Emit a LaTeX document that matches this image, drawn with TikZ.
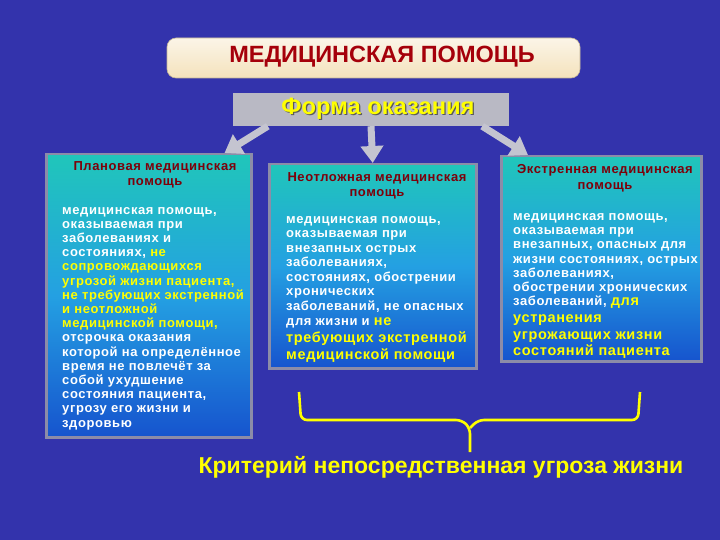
\documentclass[tikz,border=0pt]{standalone}
\usepackage{fontspec}
\setmainfont{Liberation Sans}
\newfontfamily\widefont[LetterSpace=4.5]{Liberation Sans}
\usetikzlibrary{arrows.meta, positioning, calc}
\definecolor{slideblue}{RGB}{51, 51, 172}
\definecolor{titlered}{RGB}{165, 0, 10}
\definecolor{headred}{RGB}{125, 0, 10}
\definecolor{formgray}{RGB}{185, 185, 196}
\definecolor{arrowgray}{RGB}{196, 196, 208}
\definecolor{framegray}{RGB}{140, 140, 168}
\definecolor{boxteal}{RGB}{32, 198, 186}
\definecolor{boxsky}{RGB}{36, 160, 226}
\definecolor{boxdeep}{RGB}{22, 84, 206}
\definecolor{markyellow}{RGB}{255, 255, 0}
\definecolor{cream}{RGB}{244, 226, 188}
\definecolor{shadowgray}{RGB}{90, 90, 90}

\tikzset{
  colbox/.style={draw=framegray, line width=2.5pt, anchor=north west,
    top color=boxteal, bottom color=boxdeep, middle color=boxsky},
  colhead/.style={text=headred, align=center, inner sep=0pt,
    font=\widefont\bfseries\fontsize{13}{14.5}\selectfont},
  colbody/.style={text=white, align=left, anchor=north west, inner sep=0pt,
    font=\widefont\bfseries\fontsize{13}{14.2}\selectfont},
  fatarrow/.style={-{Triangle[length=17pt, width=22pt]}, line width=7pt, arrowgray},
}
\newcommand{\hl}[1]{\textcolor{markyellow}{#1}}
\newcommand{\hlbig}[1]{\textcolor{markyellow}{\fontsize{14.5}{16}\selectfont #1}}

\begin{document}
\begin{tikzpicture}[x=1pt, y=-1pt]
  % background of the slide
  \fill[slideblue] (0,0) rectangle (720,540);
  \useasboundingbox (0,0) rectangle (720,540);

  % title
  \node[draw=cream!80!black, line width=0.6pt, rounded corners=9pt,
        top color=cream!35, bottom color=cream,
        minimum width=413pt, minimum height=40pt]
        (title) at (373.5,58) {};
  \node[text=titlered, font=\fontsize{23.5}{24}\selectfont\bfseries]
        (titletext) at (382,57) {МЕДИЦИНСКАЯ ПОМОЩЬ};

  % form of care
  \node[fill=formgray, minimum width=276pt, minimum height=33pt]
        (form) at (371,109.5) {};
  \node[text=markyellow, font=\fontsize{23.7}{24}\selectfont\bfseries]
        (formtext) at (378,109)
        {\rlap{\hspace{1.2pt}\raisebox{-1.2pt}{\textcolor{shadowgray}{Форма оказания}}}Форма оказания};

  % three columns
  \node[colbox, minimum width=205pt, minimum height=283pt] (plan) at (45,153) {};
  \node[colbox, minimum width=207pt, minimum height=204pt] (urgent) at (268,163) {};
  \node[colbox, minimum width=200pt, minimum height=205pt] (emerg) at (500,155) {};

  \node[colhead] (planhead) at (155,175) {Плановая медицинская\\помощь};
  \node[colhead] (urgenthead) at (377,186) {Неотложная медицинская\\помощь};
  \node[colhead, font=\widefont\bfseries\fontsize{13}{16}\selectfont]
        (emerghead) at (605,178) {Экстренная медицинская\\помощь};

  \node[colbody] (planbody) at (62,207) {
    медицинская помощь,\\
    оказываемая при\\
    заболеваниях и\\
    состояниях, \hl{не}\\
    \hl{сопровождающихся}\\
    \hl{угрозой жизни пациента,}\\
    \hl{не требующих экстренной}\\
    \hl{и неотложной}\\
    \hl{медицинской помощи,}\\
    отсрочка оказания\\
    которой на определённое\\
    время не повлечёт за\\
    собой ухудшение\\
    состояния пациента,\\
    угрозу его жизни и\\
    здоровью};

  \node[colbody, font=\widefont\bfseries\fontsize{13}{14.5}\selectfont]
        (urgentbody) at (286,216) {
    медицинская помощь,\\
    оказываемая при\\
    внезапных острых\\
    заболеваниях,\\
    состояниях, обострении\\
    хронических\\
    заболеваний, не опасных\\[1pt]
    для жизни и \hlbig{не}\\[2.5pt]
    \hlbig{требующих экстренной}\\[2pt]
    \hlbig{медицинской помощи}};

  \node[colbody, font=\widefont\bfseries\fontsize{13}{14.3}\selectfont]
        (emergbody) at (513,213) {
    медицинская помощь,\\
    оказываемая при\\
    внезапных, опасных для\\
    жизни состояниях, острых\\
    заболеваниях,\\
    обострении хронических\\
    заболеваний, \hlbig{для}\\[2.5pt]
    \hlbig{устранения}\\[2pt]
    \hlbig{угрожающих жизни}\\[2pt]
    \hlbig{состояний пациента}};

  % arrows from the form box
  \draw[fatarrow] ([xshift=35pt]form.south west) -- ([xshift=-28pt]plan.north east);
  \draw[fatarrow] (form.south) -- (urgent.north);
  \draw[fatarrow] ([xshift=-27pt]form.south east) -- ([xshift=28pt]emerg.north west);

  % brace and criterion
  \coordinate (braceL) at (299,392);
  \coordinate (braceR) at (640,392);
  \coordinate (braceTip) at (470,452);
  \draw[markyellow, line width=2.6pt, rounded corners=6pt]
    (braceL) -- (301,420) -- (462,420) -- (470,428) -- (braceTip);
  \draw[markyellow, line width=2.6pt, rounded corners=6pt]
    (braceR) -- (638,420) -- (478,420) -- (470,428);

  \node[text=markyellow, font=\fontsize{23}{24}\selectfont\bfseries]
        (crit) at (441,467) {Критерий непосредственная угроза жизни};
\end{tikzpicture}
\end{document}
